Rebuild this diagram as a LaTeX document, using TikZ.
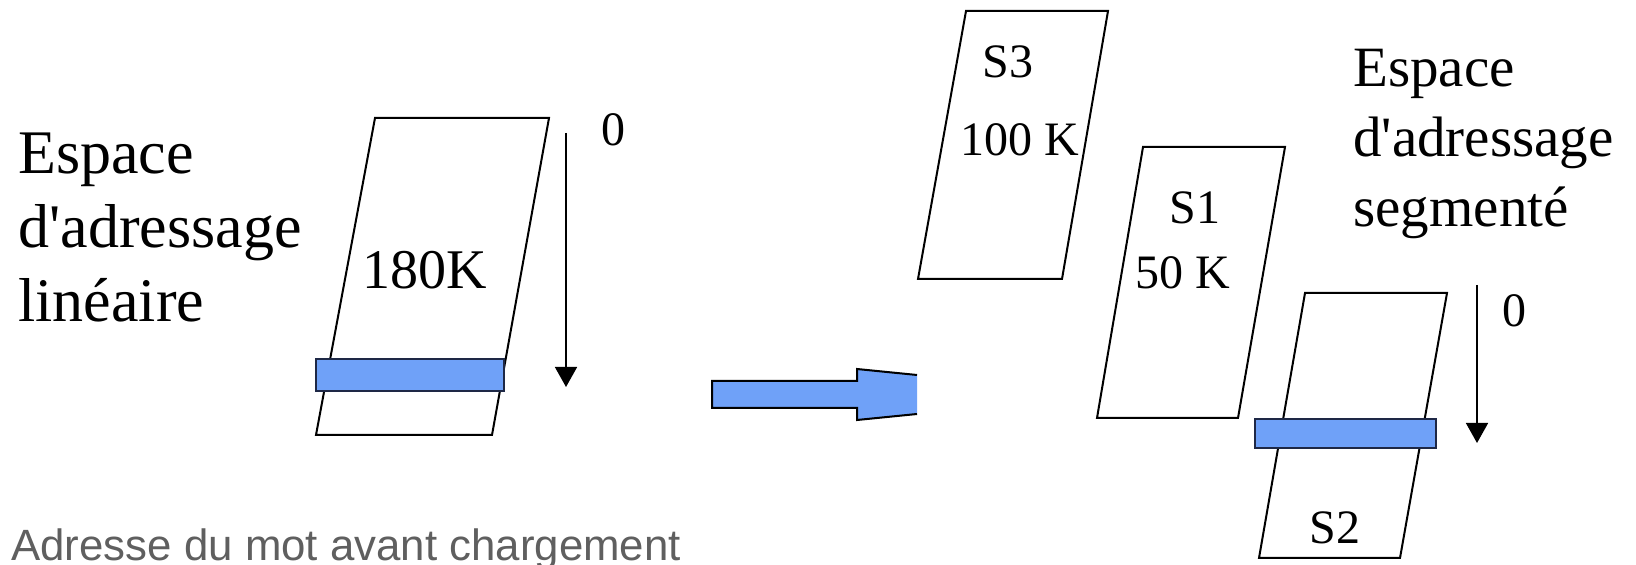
\documentclass[tikz,border=0pt]{standalone}
\usepackage{fontspec}
\setmainfont{Liberation Serif}
\newfontfamily\notesans{Liberation Sans}
\usetikzlibrary{arrows.meta}
\definecolor{wordBlue}{RGB}{111,161,248}
\definecolor{wordBlueDark}{RGB}{30,40,70}
\definecolor{noteGray}{RGB}{95,95,95}
\tikzset{
  segbox/.style={draw=black,line width=1pt},
  wordbar/.style={draw=wordBlueDark,fill=wordBlue,line width=1pt},
  addrarrow/.style={-{Triangle[length=10pt,width=11pt]},line width=0.8pt},
  seglabel/.style={inner sep=0pt,font=\fontsize{24}{28}\selectfont},
  spacetext/.style={inner sep=0pt,anchor=north west,align=left},
}
\begin{document}
\begin{tikzpicture}[x=0.5pt,y=-0.5pt]
\useasboundingbox (0,0) rectangle (1636,565);
% espace lineaire
\node[spacetext,font=\fontsize{31}{37}\selectfont] (lintext) at (18,133) {Espace\\d\textquotesingle adressage\\linéaire};
\draw[segbox] (375,118) -- (549,118) -- (492,435) -- (316,435) -- cycle;
\node[seglabel,font=\fontsize{28}{32}\selectfont] (linsize) at (425,270) {180K};
\draw[wordbar] (316,359) rectangle (504,391);
\coordinate (lintop) at (566,133);\coordinate (linend) at (566,387);
\draw[addrarrow] (lintop) -- (linend);
\node[seglabel] (linzero) at (613,130) {0};
% fleche de passage
\fill[wordBlue] (712,381) -- (857,381) -- (857,369) -- (917,375) -- (917,414) -- (857,420) -- (857,408) -- (712,408) -- cycle;
\draw[line width=1pt] (917,375) -- (857,369) -- (857,381) -- (712,381) -- (712,408) -- (857,408) -- (857,420) -- (917,414);
% espace segmente
\draw[segbox] (966,11) -- (1108,11) -- (1062,279) -- (918,279) -- cycle;
\node[seglabel] (sthree) at (1008,62) {S3};
\node[seglabel] (sthreesize) at (1020,140) {100 K};
\draw[segbox] (1143,147) -- (1285,147) -- (1238,418) -- (1097,418) -- cycle;
\node[seglabel] (sone) at (1195,208) {S1};
\node[seglabel] (sonesize) at (1183,273) {50 K};
\draw[segbox] (1305,293) -- (1447,293) -- (1400,558) -- (1259,558) -- cycle;
\node[seglabel] (stwo) at (1335,528) {S2};
\draw[wordbar] (1255,419) rectangle (1436,448);
\coordinate (segtop) at (1477,285);\coordinate (segend) at (1477,443);
\draw[addrarrow] (segtop) -- (segend);
\node[seglabel] (segzero) at (1514,311) {0};
\node[spacetext,font=\fontsize{28.5}{35}\selectfont] (segtext) at (1353,49) {Espace\\d\textquotesingle adressage\\segmenté};
% legende
\node[inner sep=0pt,anchor=base west,text=noteGray,font=\notesans\fontsize{21.9}{26}\selectfont] (note) at (11,560) {Adresse du mot avant chargement};
\end{tikzpicture}
\end{document}
